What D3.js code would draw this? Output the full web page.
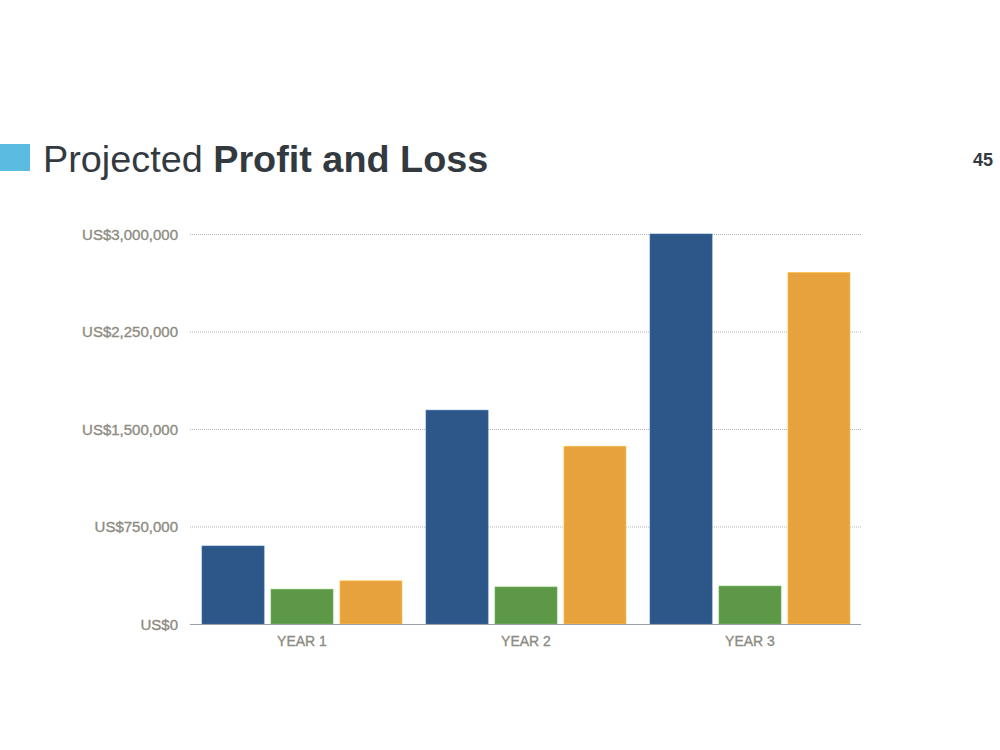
<!DOCTYPE html>
<html><head><meta charset="utf-8">
<script src="https://cdn.jsdelivr.net/npm/d3@7"></script>
<style>body{margin:0;background:#fff}svg{display:block}</style>
</head><body>
<script>
const categories = ["YEAR 1", "YEAR 2", "YEAR 3"];
const seriesNames = ["Revenue", "Expenses", "Profit"];
const revenue = [600000, 1645000, 3000000];
const expenses = [268000, 285000, 292000];
const profit = [332000, 1368000, 2705000];
const tickValues = [0, 750000, 1500000, 2250000, 3000000];
const tickLabels = ["US$0", "US$750,000", "US$1,500,000", "US$2,250,000", "US$3,000,000"];
const colors = ["#2d5789", "#5d9849", "#e8a23d"];
const series = [revenue, expenses, profit];

const W = 1000, H = 750;
const FONT = "Liberation Sans, Arial, sans-serif";
const svg = d3.select("body").append("svg").attr("width", W).attr("height", H);

// title
svg.append("rect").attr("x", 0).attr("y", 144).attr("width", 30).attr("height", 27).attr("fill", "#5bbbe0");
const t = svg.append("text").attr("x", 43).attr("y", 172).attr("font-family", FONT)
  .attr("font-size", 37.8).attr("fill", "#333a3f");
t.append("tspan").text("Projected ");
t.append("tspan").attr("font-weight", "bold").text("Profit and Loss");
svg.append("text").attr("x", 993).attr("y", 166).attr("text-anchor", "end").attr("font-family", FONT)
  .attr("font-size", 18).attr("font-weight", "bold").attr("fill", "#333a3f").text("45");

const x0 = d3.scaleBand().domain(categories).range([190, 862]).paddingInner(0).paddingOuter(0);
const x1 = d3.scaleBand().domain(seriesNames).range([12, 212]).paddingInner(0.1);
const y = d3.scaleLinear().domain([0, 3000000]).range([624, 234]);

// grid
svg.append("g").selectAll("line").data(tickValues.slice(1)).join("line")
  .attr("x1", 190).attr("x2", 861).attr("y1", d => y(d) + 0.5).attr("y2", d => y(d) + 0.5)
  .attr("stroke", "#b5b5b5").attr("stroke-width", 1).attr("stroke-dasharray", "1,1");

// y labels
svg.append("g").selectAll("text").data(tickValues).join("text")
  .attr("x", 178).attr("y", d => y(d) + 5.5).attr("text-anchor", "end")
  .attr("font-family", FONT).attr("font-size", 15)
  .attr("fill", "#8d8b82").attr("stroke", "#8d8b82").attr("stroke-width", 0.35)
  .text((d, i) => tickLabels[i]);

// bars
const g = svg.append("g");
categories.forEach((c, ci) => {
  seriesNames.forEach((s, si) => {
    const v = series[si][ci];
    g.append("rect")
      .attr("x", x0(c) + x1(s)).attr("y", y(v))
      .attr("width", x1.bandwidth()).attr("height", y(0) - y(v))
      .attr("fill", colors[si]).attr("stroke", d3.color(colors[si]).brighter(0.6)).attr("stroke-width", 0.6);
  });
});

// baseline
svg.append("line").attr("x1", 190).attr("x2", 861).attr("y1", 624.5).attr("y2", 624.5)
  .attr("stroke", "#9aa0ae").attr("stroke-width", 1);

// x labels
svg.append("g").selectAll("text").data(categories).join("text")
  .attr("x", d => x0(d) + x0.bandwidth() / 2).attr("y", 646).attr("text-anchor", "middle")
  .attr("font-family", FONT).attr("font-size", 14)
  .attr("fill", "#8d8b82").attr("stroke", "#8d8b82").attr("stroke-width", 0.35)
  .text(d => d);
</script>
</body></html>
